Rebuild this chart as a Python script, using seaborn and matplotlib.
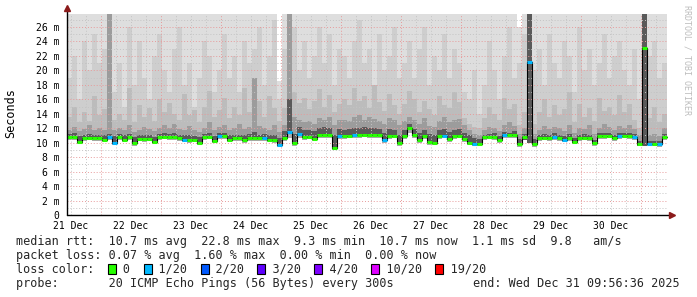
import numpy as np
import matplotlib
matplotlib.use("Agg")
import matplotlib.pyplot as plt
from matplotlib.patches import Rectangle
import seaborn as sns

# ---------------- data ----------------
start_day = 0.433          # days after 21 Dec 00:00 (first sample ~10:24)
step_hours = 2.0

median_ms = [
    10.8, 10.8, 10.1, 10.7, 10.7, 10.7, 10.6, 10.4, 10.8, 10.0,
    10.8, 10.4, 10.8, 9.95, 10.5, 10.5, 10.5, 10.1, 10.8, 10.8,
    10.8, 10.8, 10.7, 10.4, 10.4, 10.4, 10.0, 10.8, 10.8, 10.3,
    10.9, 10.9, 10.4, 10.6, 10.6, 10.4, 10.6, 10.6, 10.6, 10.7, 10.4, 10.4, 9.7,
    10.7, 11.5, 9.9, 11.2, 10.8, 10.8, 10.5, 11.0, 11.1, 11.0, 9.3, 10.9,
    10.9, 10.9, 11.1, 11.1, 11.1, 11.1, 11.1, 11.0, 10.4, 10.9, 10.9, 10.0,
    10.9, 12.0, 11.0, 10.4, 10.9, 10.1, 10.0, 10.9, 10.9, 10.5, 10.9, 10.9, 10.5, 10.0, 9.8, 9.8,
    10.8, 10.8, 10.8, 10.4, 11.0, 11.0, 11.1, 9.8, 10.8,
    21.2,
    9.8, 10.7, 10.7, 10.7, 10.8, 10.7, 10.4, 10.7, 10.1, 10.7, 10.7, 10.6, 9.9, 10.9, 10.9, 10.9,
    10.6, 10.9, 10.9, 10.9, 10.8, 9.8,
    23.1,
    9.8, 9.8, 9.8, 10.8,
]

loss_count = [
    0, 0, 0, 0, 0, 0, 0, 0, 1, 1,
    0, 0, 0, 0, 0, 0, 0, 0, 0, 0,
    0, 0, 0, 1, 0, 0, 0, 0, 0, 0,
    1, 0, 0, 0, 0, 0, 0, 0, 0, 1, 0, 0, 1,
    0, 1, 0, 1, 0, 0, 0, 0, 0, 0, 0, 1,
    0, 0, 1, 0, 0, 0, 0, 0, 1, 0, 0, 0,
    0, 0, 0, 0, 0, 0, 0, 0, 1, 0, 0, 0, 0, 0, 1, 0,
    0, 0, 0, 0, 1, 0, 0, 0, 0,
    1,
    0, 0, 0, 0, 1, 0, 1, 0, 0, 0, 0, 0, 0, 0, 0, 0,
    0, 1, 0, 0, 1, 0,
    0,
    1, 0, 1, 0,
]

low_ms = [
    10.4, 10.4, 9.8, 10.3, 10.4, 10.3, 10.2, 10.1, 10.4, 9.7,
    10.4, 10.1, 10.4, 9.6, 10.2, 10.1, 10.2, 9.8, 10.4, 10.5,
    10.4, 10.4, 10.3, 10.1, 10.0, 10.1, 9.7, 10.4, 10.5, 10.0,
    10.5, 10.5, 10.1, 10.2, 10.3, 10.0, 10.3, 10.2, 10.3, 10.3, 10.1, 10.0, 9.4,
    10.3, 10.6, 9.5, 10.6, 10.4, 10.5, 10.2, 10.6, 10.7, 10.6, 9.0, 10.5,
    10.5, 10.6, 10.7, 10.7, 10.8, 10.7, 10.7, 10.6, 10.0, 10.5, 10.6, 9.6,
    10.5, 11.3, 10.6, 10.0, 10.5, 9.7, 9.7, 10.5, 10.6, 10.1, 10.5, 10.6, 10.1, 9.7, 9.5, 9.5,
    10.4, 10.5, 10.4, 10.0, 10.6, 10.7, 10.7, 9.4, 10.4,
    10.0,
    9.4, 10.3, 10.4, 10.3, 10.4, 10.3, 10.1, 10.3, 9.8, 10.3, 10.4, 10.2, 9.6, 10.5, 10.5, 10.6,
    10.2, 10.5, 10.6, 10.5, 10.4, 9.5,
    9.6,
    9.5, 9.5, 9.4, 10.4,
]

dark_ms = [
    11.2, 11.3, 10.9, 11.1, 11.2, 11.1, 11.0, 11.0, 11.2, 10.9,
    11.2, 11.0, 11.2, 10.8, 11.0, 11.0, 11.0, 10.8, 11.2, 11.3,
    11.2, 11.3, 11.1, 11.0, 11.0, 10.9, 10.8, 11.2, 11.3, 10.9,
    11.3, 11.3, 11.0, 11.1, 11.1, 11.0, 11.2, 11.5, 11.1, 11.2, 11.0, 11.0, 10.6,
    11.6, 16.0, 11.2, 12.2, 11.8, 11.7, 11.6, 12.0, 12.2, 12.1, 11.0, 11.9,
    11.8, 11.9, 12.1, 12.0, 12.2, 12.0, 12.1, 11.9, 11.4, 11.9, 11.8, 11.1,
    11.8, 12.6, 11.9, 11.4, 11.8, 11.2, 11.0, 11.8, 11.9, 11.5, 11.8, 11.9, 11.4, 11.0, 10.6, 10.5,
    11.1, 11.2, 11.3, 10.9, 11.5, 11.4, 11.6, 10.5, 11.2,
    28.0,
    10.5, 11.1, 11.2, 11.1, 11.3, 11.1, 10.9, 11.2, 10.6, 11.1, 11.2, 11.0, 10.4, 11.3, 11.3, 11.4,
    11.0, 11.3, 11.4, 11.3, 11.2, 10.3,
    28.0,
    10.3, 10.3, 10.3, 11.2,
]

mid_ms = [
    11.8, 12.2, 11.6, 11.9, 12.4, 11.7, 12.0, 11.8, 28.0, 11.7,
    12.0, 11.7, 12.5, 11.5, 11.8, 12.2, 11.9, 11.6, 12.1, 12.4,
    12.1, 12.6, 11.9, 11.7, 12.3, 11.8, 11.5, 12.0, 12.8, 11.8,
    12.2, 12.5, 11.8, 12.0, 12.6, 11.9, 12.2, 19.0, 12.3, 12.0, 11.8, 12.4, 11.5,
    12.5, 28.0, 13.5, 13.2, 12.8, 13.0, 12.6, 13.4, 13.1, 13.6, 12.4, 13.2,
    13.2, 13.0, 13.5, 13.8, 13.1, 13.6, 13.3, 13.0, 12.6, 13.4, 13.2, 12.4,
    13.0, 13.6, 13.2, 12.6, 13.4, 12.3, 12.2, 13.0, 13.5, 12.8, 13.1, 13.3, 12.4, 11.8, 11.2, 11.0,
    11.8, 12.2, 12.0, 11.6, 12.4, 12.8, 12.3, 11.2, 12.0,
    28.0,
    11.2, 11.8, 12.3, 11.9, 12.2, 12.0, 11.6, 12.5, 11.4, 12.1, 11.9, 12.4, 11.2, 12.0, 12.6, 12.2,
    11.8, 12.3, 12.0, 12.4, 11.9, 11.0,
    28.0,
    11.0, 11.2, 10.9, 12.0,
]

upper_ms = [
    13.5, 15.0, 12.8, 14.2, 13.0, 16.5, 13.8, 14.6, 28.0, 13.2,
    14.0, 13.2, 17.5, 12.8, 15.2, 13.6, 14.8, 13.0, 16.0, 14.2,
    15.5, 14.0, 13.2, 16.8, 13.8, 14.5, 12.9, 15.0, 17.2, 13.6,
    14.5, 16.2, 13.4, 15.0, 13.8, 17.5, 14.2, 19.0, 15.8, 13.6, 16.4, 14.8, 13.0,
    14.8, 28.0, 17.0, 15.5, 16.2, 14.6, 15.8, 17.4, 15.0, 16.6, 14.2, 15.4,
    16.0, 15.2, 17.5, 15.8, 16.5, 14.8, 18.0, 15.6, 14.4, 16.8, 15.2, 14.0,
    15.4, 17.2, 16.0, 14.2, 15.8, 14.6, 13.8, 16.5, 15.2, 14.8, 17.0, 15.6, 13.4, 12.6, 12.2, 12.0,
    13.4, 15.0, 14.0, 13.2, 16.2, 14.6, 15.4, 12.4, 14.2,
    28.0,
    12.6, 14.2, 16.0, 13.6, 15.2, 13.8, 14.6, 17.0, 12.8, 15.4, 13.6, 14.8, 13.0, 16.2, 14.4, 15.0,
    13.8, 16.6, 14.2, 15.4, 13.2, 12.0,
    28.0,
    13.4, 15.0, 12.8, 14.0,
]

high_ms = [
    19, 22, 16, 24, 20, 25, 21, 23, 28, 17,
    21, 15, 26, 18, 24, 19, 16, 22, 25, 20,
    17, 23, 26, 18, 21, 15, 19, 24, 22, 17,
    20, 25, 19, 22, 17, 24, 21, 23, 26, 18, 22, 27, 16,
    23, 28, 26, 20, 24, 19, 22, 26, 21, 25, 18, 23,
    22, 19, 24, 27, 21, 23, 18, 25, 20, 22, 26, 19,
    21, 24, 19, 23, 26, 18, 22, 20, 25, 19, 23, 21, 17, 16, 20, 14,
    18, 24, 20, 16, 22, 26, 19, 21, 25,
    28,
    20, 23, 18, 25, 21, 19, 24, 22, 17, 26, 20, 23, 18, 21, 25, 19,
    22, 24, 20, 18, 23, 16,
    28,
    22, 24, 19, 21,
]

max_ms = [28.0] * 42 + [18.5] + [28.0] * 47 + [26.0] + [28.0] * 29

day_labels = ["21 Dec", "22 Dec", "23 Dec", "24 Dec", "25 Dec",
              "26 Dec", "27 Dec", "28 Dec", "29 Dec", "30 Dec"]
y_ticks = [0, 2, 4, 6, 8, 10, 12, 14, 16, 18, 20, 22, 24, 26]

loss_levels = [0, 1, 2, 3, 4, 10, 19]
loss_labels = ["0", "1/20", "2/20", "3/20", "4/20", "10/20", "19/20"]
loss_colors = ["#26ff00", "#00b8ff", "#0059ff", "#5e00ff", "#7e00ff", "#dd00ff", "#ff0000"]

stat_line1 = "median rtt:  10.7 ms avg  22.8 ms max  9.3 ms min  10.7 ms now  1.1 ms sd  9.8   am/s"
stat_line2 = "packet loss: 0.07 % avg  1.60 % max  0.00 % min  0.00 % now"
probe_line = "probe:       20 ICMP Echo Pings (56 Bytes) every 300s"
end_line = "end: Wed Dec 31 09:56:36 2025"

# ---------------- style ----------------
sns.set_theme(style="white")
plt.rcParams["font.family"] = ["DejaVu Sans Mono", "DejaVu Sans"]
MONO = ["DejaVu Sans Mono", "DejaVu Sans"]

W, H = 697, 297
fig = plt.figure(figsize=(W / 100, H / 100), dpi=100)
fig.patch.set_facecolor("white")
ax = fig.add_axes([67 / W, 82 / H, 601 / W, 201 / H])
ax.set_facecolor("white")

n = len(median_ms)
t_edges = start_day + np.arange(n + 1) * step_hours / 24.0


def ext(a):
    a = np.asarray(a, dtype=float)
    return np.append(a, a[-1])


lo = ext(low_ms)
bands = [
    (max_ms, "#dedede"),
    (high_ms, "#cecece"),
    (upper_ms, "#bcbcbc"),
    (mid_ms, "#9c9c9c"),
    (dark_ms, "#5a5a5a"),
]
for arr, col in bands:
    ax.fill_between(t_edges, lo, ext(arr), step="post", color=col, lw=0, zorder=1)

med = ext(median_ms)
mask = ext(dark_ms) < ext(mid_ms)
ax.fill_between(t_edges, lo, med, where=mask, step="post", color="#a8a8a8",
                lw=0, zorder=1.2, interpolate=False)

# grid (drawn over smoke like rrdtool)
minor_c = "#c4c4c4"
major_c = "#e79a9a"
dots = (0, (1, 2))
for q in np.arange(0.5, 10.45, 0.25):
    if abs(q - round(q)) > 1e-6:
        ax.axvline(q, color=minor_c, lw=0.7, ls=dots, zorder=2)
for d in range(1, 11):
    ax.axvline(d, color=major_c, lw=0.7, ls=dots, zorder=2.1)
for yv in range(1, 28, 2):
    ax.axhline(yv, color=minor_c, lw=0.7, ls=dots, zorder=2)
for yv in y_ticks[1:]:
    ax.axhline(yv, color=major_c, lw=0.7, ls=dots, zorder=2.1)

# median line: black connectors + loss-coloured segments
sns.lineplot(x=t_edges, y=med, drawstyle="steps-post", color="black", lw=0.8,
             ax=ax, estimator=None, sort=False, zorder=3)
color_of = dict(zip(loss_levels, loss_colors))
ax.hlines(median_ms, t_edges[:-1], t_edges[1:],
          colors=[color_of[c] for c in loss_count], lw=2.2, zorder=4)

ax.set_xlim(start_day, start_day + 601 / 60.0)
ax.set_ylim(0, 201 / 7.23)

ax.set_xticks(np.arange(len(day_labels)) + 0.5)
ax.set_xticklabels(day_labels, fontsize=7, family=MONO)
ax.set_yticks(y_ticks)
ax.set_yticklabels(["0" if v == 0 else f"{v} m" for v in y_ticks], fontsize=7, family=MONO)
ax.tick_params(axis="x", length=0, pad=4.5, colors="black")
ax.tick_params(axis="y", length=0, pad=5.5, colors="black")

for s in ax.spines.values():
    s.set_visible(False)
ax.plot([0, 1.0067], [0, 0], transform=ax.transAxes, color="black", lw=1,
        clip_on=False, zorder=6)
ax.plot([0, 0], [0, 1.03], transform=ax.transAxes, color="black", lw=1,
        clip_on=False, zorder=6)
ax.plot([1.0067], [0], marker=">", ms=4.5, color="#8b1a1a", transform=ax.transAxes,
        clip_on=False, zorder=7)
ax.plot([0], [1.03], marker="^", ms=4.5, color="#8b1a1a", transform=ax.transAxes,
        clip_on=False, zorder=7)
if ax.get_legend() is not None:
    ax.get_legend().remove()

# axis title & watermark
fig.text(11 / W, 1 - 113 / H, "Seconds", rotation=90, ha="center", va="center",
         fontsize=8.5, family=MONO, color="black")
fig.text(687 / W, 1 - 60 / H, "RRDTOOL / TOBI OETIKER", rotation=270, ha="center",
         va="center", fontsize=6, family=MONO, color="#bdbdbd")

# legend block
FS = 8.5
charw = 0.602 * FS / 72 * 100
x0 = 16
fig.text(x0 / W, 1 - 245 / H, stat_line1, fontsize=FS, family=MONO, va="baseline")
fig.text(x0 / W, 1 - 259 / H, stat_line2, fontsize=FS, family=MONO, va="baseline")

template = "loss color:  "
square_idx = []
for lab in loss_labels:
    square_idx.append(len(template))
    template += "# " + lab + "  "
fig.text(x0 / W, 1 - 273 / H, template.replace("#", " "), fontsize=FS, family=MONO,
         va="baseline")
for idx, col in zip(square_idx, loss_colors):
    left = x0 + idx * charw - 0.2
    fig.add_artist(Rectangle((left / W, 1 - 274 / H), 8 / W, 10 / H,
                             transform=fig.transFigure, facecolor=col,
                             edgecolor="black", lw=0.8))

fig.text(x0 / W, 1 - 287 / H, probe_line, fontsize=FS, family=MONO, va="baseline")
fig.text(680 / W, 1 - 287 / H, end_line, fontsize=FS, family=MONO, va="baseline",
         ha="right")

fig.savefig("out.png", dpi=100, facecolor="white")
